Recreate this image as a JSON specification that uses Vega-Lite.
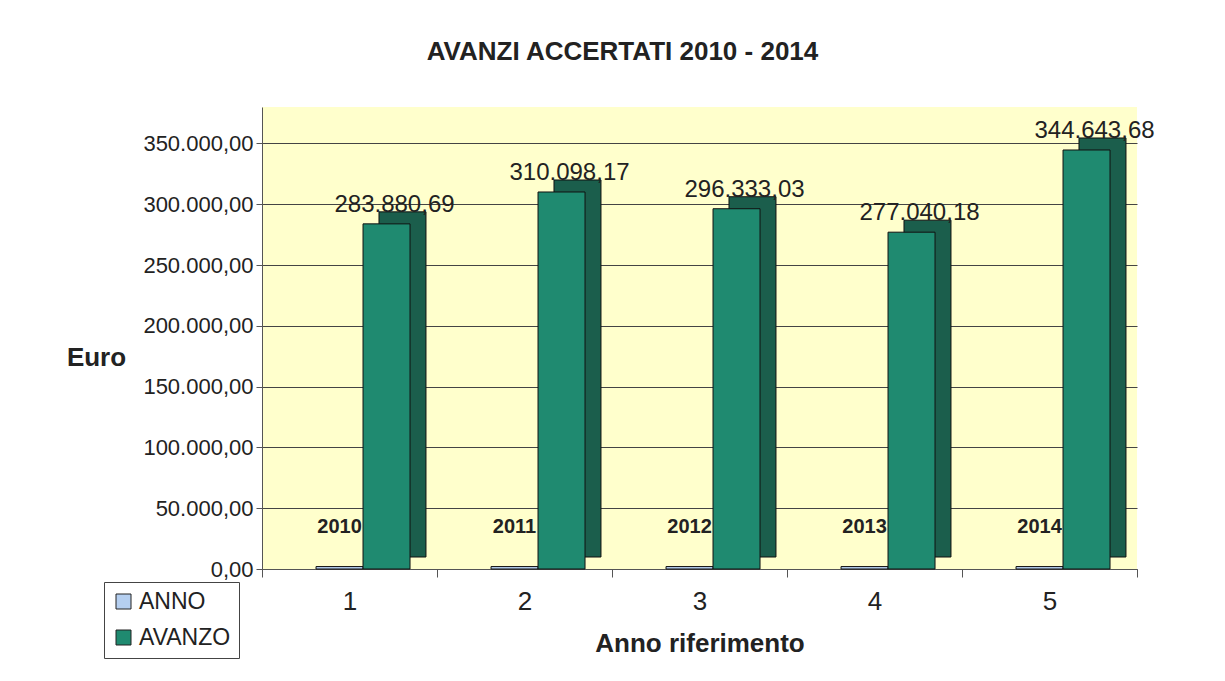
{
  "$schema": "https://vega.github.io/schema/vega-lite/v6.json",
  "width": 875,
  "height": 462,
  "autosize": {"type": "none"},
  "padding": {"left": 262, "top": 107, "right": 88, "bottom": 112},
  "background": "white",
  "config": {
    "locale": {"number": {"decimal": ",", "thousands": ".", "grouping": [3], "currency": ["€", ""]}},
    "font": "Liberation Sans",
    "view": {"fill": "#FFFFCC", "stroke": null},
    "legend": {
      "orient": "none",
      "legendX": -158,
      "legendY": 475,
      "symbolType": "square",
      "symbolSize": 225,
      "symbolStrokeColor": "#222",
      "symbolStrokeWidth": 1,
      "labelFontSize": 23,
      "labelColor": "#222",
      "labelFont": "Liberation Sans",
      "strokeColor": "#444",
      "fillColor": "white",
      "padding": 8,
      "rowPadding": 12
    }
  },
  "title": {
    "text": "AVANZI ACCERTATI 2010 - 2014",
    "fontSize": 26,
    "fontWeight": "bold",
    "font": "Liberation Sans",
    "color": "#222",
    "anchor": "middle",
    "dx": -77,
    "offset": 42
  },
  "data": {
    "values": [
      {"Anno riferimento": 1, "serie": "ANNO", "valore": 2010},
      {"Anno riferimento": 1, "serie": "AVANZO", "valore": 283880.69},
      {"Anno riferimento": 2, "serie": "ANNO", "valore": 2011},
      {"Anno riferimento": 2, "serie": "AVANZO", "valore": 310098.17},
      {"Anno riferimento": 3, "serie": "ANNO", "valore": 2012},
      {"Anno riferimento": 3, "serie": "AVANZO", "valore": 296333.03},
      {"Anno riferimento": 4, "serie": "ANNO", "valore": 2013},
      {"Anno riferimento": 4, "serie": "AVANZO", "valore": 277040.18},
      {"Anno riferimento": 5, "serie": "ANNO", "valore": 2014},
      {"Anno riferimento": 5, "serie": "AVANZO", "valore": 344643.68}
    ]
  },
  "encoding": {
    "x": {
      "field": "Anno riferimento",
      "type": "ordinal",
      "scale": {"paddingInner": 0, "paddingOuter": 0},
      "axis": {
        "title": "Anno riferimento",
        "labelAngle": 0,
        "labelFontSize": 26,
        "labelColor": "#222",
        "labelPadding": 11,
        "tickBand": "extent",
        "tickSize": 8,
        "tickColor": "#555",
        "domainColor": "#555",
        "titleFontSize": 26,
        "titleFontWeight": "bold",
        "titleColor": "#222",
        "titlePadding": 16,
        "grid": false
      }
    },
    "y": {
      "field": "valore",
      "type": "quantitative",
      "scale": {"domain": [0, 380000], "nice": false},
      "axis": {
        "title": "Euro",
        "values": [0, 50000, 100000, 150000, 200000, 250000, 300000, 350000],
        "format": ",.2f",
        "labelFontSize": 22,
        "labelColor": "#222",
        "labelPadding": 3,
        "tickColor": "#555",
        "tickSize": 6,
        "domainColor": "#555",
        "grid": true,
        "gridColor": "#444",
        "gridWidth": 1,
        "titleAngle": 0,
        "titleFontSize": 26,
        "titleFontWeight": "bold",
        "titleColor": "#222",
        "titleX": -166,
        "titleY": 250,
        "titleAlign": "center",
        "titleBaseline": "middle"
      }
    }
  },
  "layer": [
    {
      "transform": [{"filter": "datum.serie === 'AVANZO'"}],
      "mark": {"type": "bar", "color": "#1B5E4C", "stroke": "#111", "strokeWidth": 1, "yOffset": -12, "y2Offset": -12},
      "encoding": {
        "xOffset": {
          "field": "serie",
          "scale": {"domain": ["ANNO", "AVANZO"], "paddingInner": 0, "paddingOuter": 0.862, "align": 0.864}
        }
      }
    },
    {
      "layer": [
        {
          "mark": {"type": "bar", "stroke": "#111", "strokeWidth": 1},
          "encoding": {
            "color": {
              "field": "serie",
              "type": "nominal",
              "scale": {"domain": ["ANNO", "AVANZO"], "range": ["#B5CFF0", "#1F8A70"]},
              "legend": {"title": null}
            }
          }
        },
        {
          "transform": [{"filter": "datum.serie === 'AVANZO'"}],
          "mark": {"type": "text", "fontSize": 24, "baseline": "alphabetic", "dy": -12, "dx": 8, "color": "#222"},
          "encoding": {"text": {"field": "valore", "type": "quantitative", "format": ",.2f"}}
        },
        {
          "transform": [{"filter": "datum.serie === 'ANNO'"}],
          "mark": {"type": "text", "fontSize": 20, "fontWeight": "bold", "baseline": "alphabetic", "dy": -34, "color": "#222"},
          "encoding": {"text": {"field": "valore", "type": "quantitative", "format": "d"}}
        }
      ],
      "encoding": {
        "xOffset": {
          "field": "serie",
          "scale": {"domain": ["ANNO", "AVANZO"], "paddingInner": 0, "paddingOuter": 0.862, "align": 0.667}
        }
      }
    }
  ],
  "resolve": {"scale": {"xOffset": "independent"}}
}
